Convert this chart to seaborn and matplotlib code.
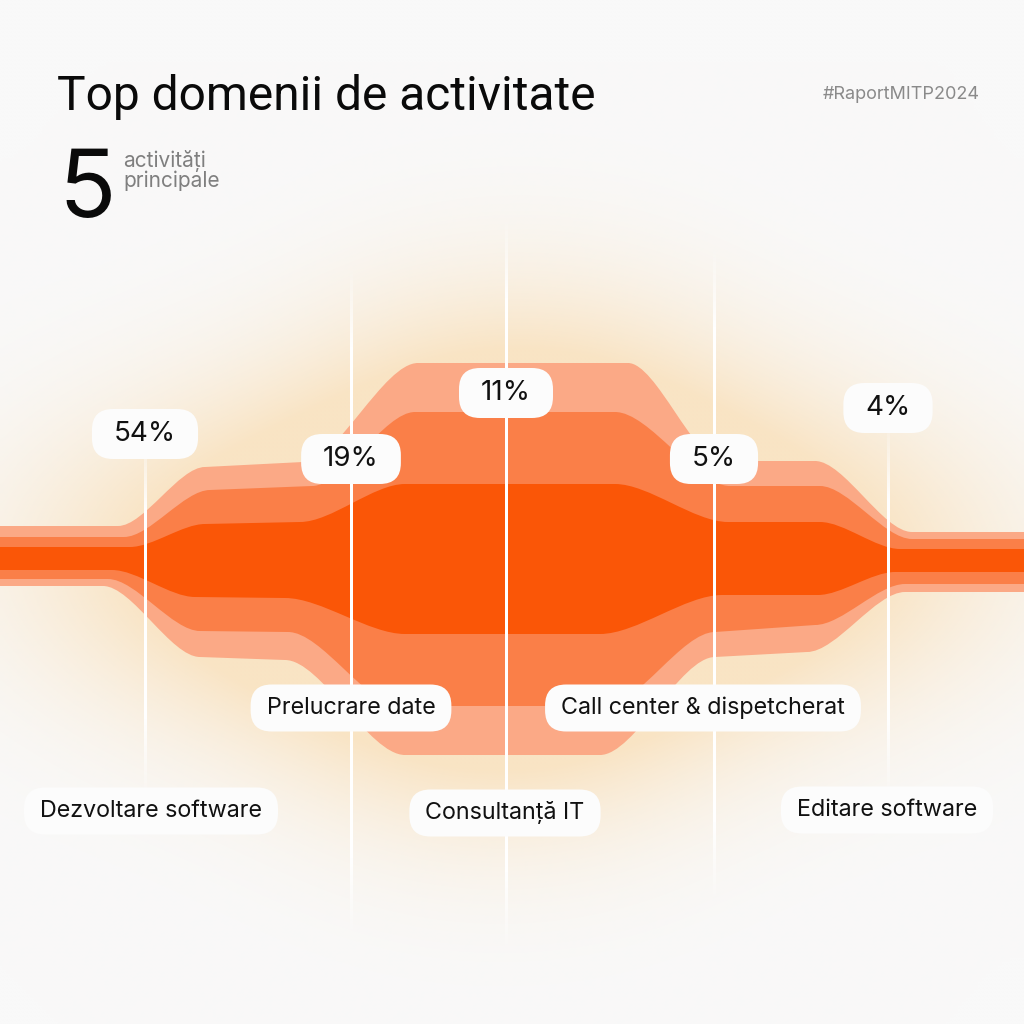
import numpy as np
import matplotlib
matplotlib.use("Agg")
import matplotlib.pyplot as plt
from matplotlib.path import Path
from matplotlib.patches import PathPatch, FancyBboxPatch
import seaborn as sns

# categories and shares (top 5 activity domains)
categories = ["Dezvoltare software", "Prelucrare date", "Consultanță IT",
              "Call center & dispetcherat", "Editare software"]
shares = [54, 19, 11, 5, 4]
share_labels = [f"{s}%" for s in shares]

# stage positions along the stream (x) and where the divider lines run
stage_x = [145, 351, 506, 714, 888]
line_top = [430, 265, 215, 245, 420]
line_bottom = [800, 940, 955, 905, 800]

# stream edges: plateaus (x start, x end, y start, y end)
outer_top = [(-10, 118, 526, 526), (205, 303, 467, 462), (418, 628, 363, 363),
             (722, 815, 461, 461), (912, 1034, 532, 532)]
mid_top = [(-10, 124, 537, 537), (210, 312, 490, 486), (415, 615, 412, 412),
           (730, 820, 486, 486), (912, 1034, 539, 539)]
inner_top = [(-10, 130, 547, 547), (205, 300, 524, 522), (405, 615, 484, 484),
             (728, 820, 522, 522), (900, 1034, 549, 549)]
inner_bottom = [(-10, 112, 570, 570), (195, 285, 597, 598), (405, 600, 634, 634),
                (722, 818, 595, 595), (895, 1034, 572, 572)]
mid_bottom = [(-10, 108, 579, 579), (200, 288, 631, 632), (400, 605, 706, 706),
              (715, 815, 632, 625), (905, 1034, 584, 584)]
outer_bottom = [(-10, 103, 586, 586), (200, 285, 657, 660), (405, 600, 755, 755),
                (715, 807, 657, 652), (905, 1034, 592, 592)]

# label anchors
pct_y = [434, 459, 393, 459, 408]
cat_x = [151, 351, 505, 703, 887]
cat_y = [811, 708, 813, 708, 810]

BG = "#F9F9F9"
GLOW = "#F9E4C4"
LAYER_COLORS = ["#FBA986", "#FA7F48", "#FA5607"]


def edge_verts(plateaus, k=0.3):
    verts, codes = [], []
    prev = None
    for x0, x1, y0, y1 in plateaus:
        if prev is None:
            verts.append((x0, y0)); codes.append(Path.MOVETO)
        else:
            px, py = prev
            dx = x0 - px
            verts += [(px + k * dx, py), (x0 - k * dx, y0), (x0, y0)]
            codes += [Path.CURVE4] * 3
        verts.append((x1, y1)); codes.append(Path.LINETO)
        prev = (x1, y1)
    return verts, codes


def band_path(top, bottom):
    tv, tc = edge_verts(top)
    rev = [(x1, x0, y1, y0) for x0, x1, y0, y1 in bottom[::-1]]
    bv, bc = edge_verts(rev)
    bc[0] = Path.LINETO
    return Path(tv + bv + [tv[0]], tc + bc + [Path.CLOSEPOLY])


sns.set_theme(style="white", rc={"figure.facecolor": BG, "axes.facecolor": BG})
plt.rcParams["font.family"] = ["Inter", "DejaVu Sans"]

fig = plt.figure(figsize=(10.24, 10.24), dpi=100)
ax = fig.add_axes([0, 0, 1, 1])

bands = [band_path(outer_top, outer_bottom),
         band_path(mid_top, mid_bottom),
         band_path(inner_top, inner_bottom)]

# soft glow behind the stream: blurred mask of the outer shape
step = 4
g = np.arange(0, 1024, step) + step / 2
gx, gy = np.meshgrid(g, g)
mask = bands[0].contains_points(np.c_[gx.ravel(), gy.ravel()]).reshape(gx.shape).astype(float)
sigma = 100 / step
r = np.arange(-int(3 * sigma), int(3 * sigma) + 1)
kern = np.exp(-0.5 * (r / sigma) ** 2)
kern /= kern.sum()
blur = np.apply_along_axis(lambda v: np.convolve(v, kern, mode="same"), 0, mask)
blur = np.apply_along_axis(lambda v: np.convolve(v, kern, mode="same"), 1, blur)
a = np.clip(blur / blur.max() * 2.3, 0, 1)[..., None]
bg_rgb = np.array(matplotlib.colors.to_rgb(BG))
glow_rgb = np.array(matplotlib.colors.to_rgb(GLOW))
img = bg_rgb * (1 - a) + glow_rgb * a
ax.imshow(img, extent=(0, 1024, 1024, 0), interpolation="bilinear", aspect="auto", zorder=0)

for p, c in zip(bands, LAYER_COLORS):
    ax.add_patch(PathPatch(p, facecolor=c, edgecolor="none", zorder=2))

# white divider lines fading at both ends
for x, y0, y1 in zip(stage_x, line_top, line_bottom):
    ys = np.linspace(y0, y1, 300)
    fade = np.minimum(np.clip((ys - y0) / 80, 0, 1), np.clip((y1 - ys) / 80, 0, 1))
    rgba = np.ones((len(ys), 1, 4))
    rgba[:, 0, 3] = fade
    ax.imshow(rgba, extent=(x - 1.5, x + 1.5, y1, y0), aspect="auto",
              interpolation="bilinear", zorder=3)

ax.set_xlim(0, 1024)
ax.set_ylim(1024, 0)
ax.axis("off")

# labels
texts = []
for x, y, s in zip(stage_x, pct_y, share_labels):
    t = ax.text(x, y, s, ha="center", va="center", fontsize=20, color="#111111", zorder=6)
    texts.append((t, 22, 50))
for x, y, s in zip(cat_x, cat_y, categories):
    t = ax.text(x, y, s, ha="center", va="center", fontsize=16.8, color="#111111", zorder=6)
    texts.append((t, 16, 47))

fig.canvas.draw()
inv = ax.transData.inverted()
for t, padx, h in texts:
    bb = t.get_window_extent()
    (x0, _), (x1, _) = inv.transform([(bb.x0, bb.y0), (bb.x1, bb.y1)])
    cx, cy = t.get_position()
    ax.add_patch(FancyBboxPatch((x0 - padx, cy - h / 2), (x1 - x0) + 2 * padx, h,
                                boxstyle="round,pad=0,rounding_size=21",
                                facecolor="#FCFCFC", edgecolor="none", zorder=5))

# header
ax.text(57, 110, "Top domenii de activitate", ha="left", va="baseline",
        fontsize=34.5, color="#0A0A0A", family=["Roboto", "DejaVu Sans"])
ax.text(58, 217, "5", ha="left", va="baseline", fontsize=68, color="#0A0A0A")
ax.text(123, 167, "activități", ha="left", va="baseline", fontsize=15, color="#7F7F7F")
ax.text(123, 187, "principale", ha="left", va="baseline", fontsize=15, color="#7F7F7F")
ax.text(980, 99, "#RaportMITP2024", ha="right", va="baseline", fontsize=13, color="#8A8A8A")

fig.savefig("out.png", dpi=100, facecolor=BG)
